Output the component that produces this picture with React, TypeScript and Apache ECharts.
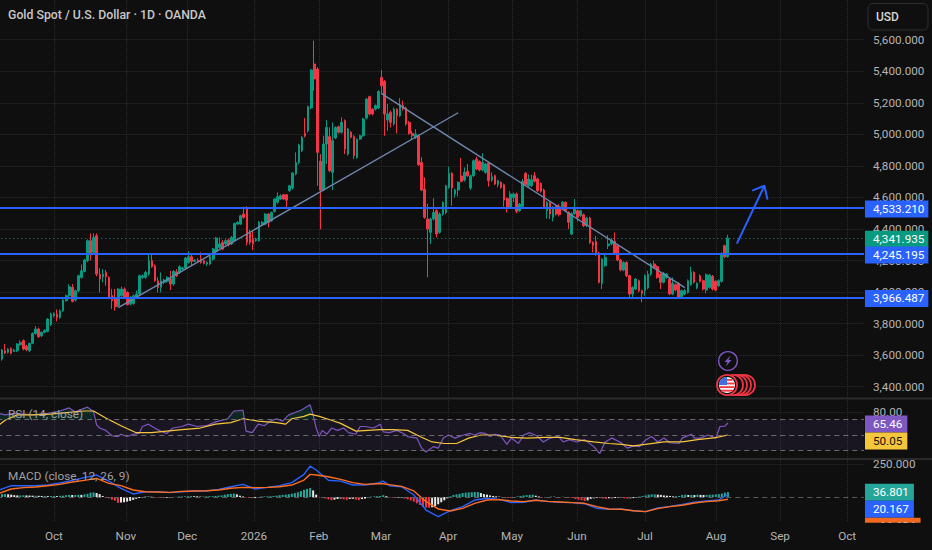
import React, { useEffect, useRef } from "react";
import * as echarts from "echarts";

const FONT = "Roboto, 'Liberation Sans', sans-serif";
const TICK_SIZE = 11.7;
const BAR_SLOTS = 283;

const monthBars = [18, 41.5, 61.5, 83.3, 104.5, 124.8, 146.7, 167.6, 188.8, 211, 234.2, 255.1, 277];
const monthLabels = ["Oct", "Nov", "Dec", "2026", "Feb", "Mar", "Apr", "May", "Jun", "Jul", "Aug", "Sep", "Oct"];

// open, close, low, high
const candles: number[][] = [
[3533,3575,3510,3590],[3575,3633,3565,3640],[3628,3614,3607,3671],[3618,3639,3610,3645],[3643,3612,3605,3650],
[3624,3633,3620,3640],[3628,3671,3620,3675],[3666,3681,3660,3695],[3692,3639,3630,3700],[3656,3635,3625,3665],
[3628,3675,3620,3680],[3675,3738,3670,3745],[3738,3766,3730,3785],[3766,3717,3710,3775],[3723,3745,3715,3750],
[3745,3755,3740,3765],[3751,3829,3745,3835],[3793,3861,3785,3870],[3850,3865,3840,3870],[3861,3840,3815,3890],
[3840,3882,3830,3890],[3882,3950,3875,3955],[3945,3977,3940,3985],[3977,4034,3970,4050],[4030,3941,3935,4050],
[3950,4009,3940,4015],[4009,4104,4000,4110],[4093,4135,4085,4175],[4131,4203,4125,4210],[4199,4326,4190,4335],
[4326,4241,4200,4372],[4252,4347,4240,4372],[4357,4114,4100,4372],[4114,4083,3998,4152],[4097,4114,4062,4146],
[4125,4097,4040,4140],[4093,3966,3955,4100],[3977,3945,3893,4020],[3966,3907,3882,4020],[3914,4019,3905,4025],
[3977,4019,3970,4035],[4019,3966,3960,4030],[3998,3920,3915,4005],[3924,3966,3915,3975],[3928,3977,3920,3985],
[3966,3988,3960,4010],[3988,4104,3980,4110],[4093,4104,4085,4112],[4093,4125,4085,4135],[4114,4199,4105,4235],
[4199,4161,4155,4237],[4167,4072,4065,4175],[4072,4030,3998,4093],[4030,4072,3998,4125],[4062,4076,4050,4085],
[4068,4093,4060,4100],[4083,4051,4013,4135],[4051,4131,4040,4140],[4129,4104,4095,4146],[4125,4161,4115,4170],
[4146,4152,4140,4160],[4152,4216,4145,4222],[4188,4224,4180,4258],[4224,4195,4165,4235],[4195,4203,4190,4210],
[4203,4197,4190,4215],[4209,4188,4180,4252],[4199,4182,4175,4205],[4178,4188,4165,4195],[4178,4224,4170,4232],
[4209,4273,4200,4280],[4258,4343,4250,4350],[4283,4305,4275,4347],[4315,4273,4265,4330],[4305,4326,4295,4335],
[4330,4300,4290,4340],[4305,4347,4298,4355],[4326,4435,4318,4440],[4431,4442,4425,4450],[4431,4484,4425,4490],
[4495,4474,4465,4541],[4533,4315,4295,4545],[4378,4315,4300,4395],[4336,4305,4266,4389],[4326,4336,4318,4345],
[4326,4442,4320,4450],[4431,4442,4425,4450],[4431,4495,4425,4500],[4495,4442,4410,4500],[4452,4505,4445,4510],
[4512,4590,4505,4595],[4569,4605,4560,4632],[4590,4611,4585,4620],[4617,4590,4583,4622],[4617,4583,4526,4622],
[4643,4674,4635,4680],[4660,4755,4650,4760],[4748,4822,4740,4886],[4822,4932,4810,4940],[4896,4981,4888,4990],
[5006,4989,4980,5103],[5023,5175,5012,5182],[5167,5408,5160,5415],[5446,5351,5277,5594],[5414,4886,4674,5425],
[4829,4647,4398,4875],[4647,4939,4640,4991],[4939,5044,4812,5091],[4985,4770,4760,5044],[4759,4960,4647,5076],
[4977,5044,4970,5050],[5048,5013,5005,5055],[5013,5076,5005,5108],[5087,4907,4875,5095],[4875,5034,4865,5040],
[5013,4981,4975,5020],[4985,4865,4843,4995],[4854,4970,4845,4975],[4970,4991,4965,4998],[4991,5097,4985,5105],
[5103,5224,5095,5230],[5239,5129,5120,5245],[5160,5129,5120,5165],[5160,5182,5150,5190],[5167,5272,5160,5278],
[5361,5308,5255,5408],[5336,5129,4991,5345],[5091,5129,5023,5192],[5139,5076,5044,5150],[5065,5160,5055,5170],
[5160,5118,5006,5165],[5118,5188,5110,5230],[5182,5160,5150,5213],[5167,5065,5055,5175],[5076,5006,4998,5085],
[5006,4991,4970,5023],[4981,5002,4970,5033],[4991,4807,4800,5000],[4822,4647,4640,4855],[4653,4474,4465,4727],
[4463,4400,4093,4560],[4379,4463,4305,4470],[4463,4505,4455,4596],[4516,4368,4347,4525],[4379,4495,4370,4505],
[4495,4569,4485,4575],[4505,4674,4495,4680],[4664,4753,4655,4795],[4753,4660,4547,4760],[4622,4647,4600,4655],
[4647,4696,4607,4702],[4736,4702,4695,4850],[4710,4759,4700,4790],[4765,4738,4730,4812],[4660,4738,4647,4745],
[4738,4833,4730,4840],[4843,4780,4772,4858],[4829,4774,4765,4835],[4774,4822,4765,4880],[4759,4812,4750,4820],
[4818,4706,4668,4825],[4710,4731,4700,4760],[4738,4685,4678,4745],[4681,4706,4664,4712],[4696,4664,4655,4702],
[4681,4584,4541,4688],[4594,4531,4505,4600],[4537,4622,4530,4640],[4600,4622,4570,4630],[4622,4512,4499,4630],
[4516,4558,4510,4565],[4543,4702,4535,4717],[4753,4681,4675,4760],[4674,4717,4665,4745],[4674,4712,4665,4745],
[4738,4702,4695,4761],[4717,4643,4635,4725],[4689,4639,4630,4695],[4647,4537,4530,4655],[4516,4569,4465,4575],
[4569,4495,4463,4575],[4474,4537,4448,4545],[4548,4495,4485,4555],[4541,4491,4480,4558],[4541,4569,4535,4578],
[4569,4516,4508,4575],[4505,4442,4400,4512],[4368,4499,4362,4505],[4499,4527,4490,4590],[4516,4474,4448,4525],
[4484,4516,4475,4522],[4490,4421,4412,4498],[4421,4469,4412,4478],[4469,4315,4305,4478],[4315,4294,4252,4322],
[4321,4237,4230,4357],[4247,4062,4055,4255],[4055,4209,4019,4215],[4167,4220,4160,4237],[4294,4305,4273,4361],
[4305,4330,4298,4343],[4321,4245,4238,4378],[4294,4203,4195,4300],[4203,4140,4132,4210],[4140,4188,4132,4195],
[4188,4104,4095,4195],[4104,3988,3956,4110],[3988,4030,3966,4037],[4019,4083,4012,4090],[4072,4009,4000,4080],
[4009,3992,3935,4015],[4009,4104,3977,4112],[4026,4114,4018,4135],[4114,4178,4105,4185],[4178,4157,4150,4199],
[4161,4093,4085,4170],[4114,4062,4019,4122],[4062,4119,4055,4128],[4093,4114,4085,4120],[4083,3988,3980,4090],
[3988,4055,3980,4093],[4047,4013,4005,4055],[4055,3966,3958,4062],[3971,4009,3962,4016],[3988,4009,3980,4020],
[3998,4072,3990,4080],[4047,4125,4040,4161],[4125,4062,4055,4132],[4026,4055,4018,4062],[4104,4068,4060,4112],
[4072,4019,4010,4080],[4013,4110,3992,4118],[4030,4108,4022,4115],[4100,4019,4010,4108],[4068,4013,4005,4075],
[4040,4072,4032,4080],[4068,4241,4060,4252],[4294,4224,4215,4300],[4224,4341.935,4218,4364],
];

const supportLevels = [4533.21, 4245.195, 3966.487];
const lastPrice = 4341.935;

const rsiBars = [0,2,5,11,16,20,23,25,29,31,32,33,35,37,39,40,42,44,46,47,49,51,53,55,57,60,62,65,68,71,75,77,80,81,83,85,87,89,91,93,95,99,102,103,104,105,106,107.5,109,111,113,114.6,117,118.4,120,122.8,125,126,128,130.4,132.6,134,137,138.6,140,142.4,144,145.7,147.4,149.5,152.3,154.5,156,157.7,159.4,161,162.7,164.3,166.5,168,170.3,172,174,176.3,178.5,180.7,183.4,185,187,189.4,192,195,197,198.7,201,204,206,208,210,212,214,216,218,220,223,224,227,228,230,232.5,235,236.4,238,239];
const rsiValues = [78,76,78,76,78,81,85,80,86,80,63,59,56,49,48,51,48,51,52,61,64,59,55,52,59,61,64,61,62,67,71,81,82,55,53,64,62,68,71,68,76,82,89,76,59,48,56,51,59,56,59,53,51,61,61,59,64,54,53,56,52,48,46,33,28,35,33,46,50,46,50,52,50,53,52,48,51,50,38,46,39,50,53,49,41,46,48,41,44,41,44,35,26,41,46,40,33,36,35,43.5,48,41,46,40,39,46,51,46,46,50,46,61,61.5,65.46];

const rsiMaBars = [0,2,6,11,17,22,28,31,35,40,45,50,55,60,66,71,76,80,85,91,94,96,100,102,105,109,112,117,121,125,129,134,138,142,146,150,154,158,162,168,173,179,184,189,195,200,204,208,212,218,224,229,235,239];
const rsiMaValues = [63,69,76,76,77,79,81,81,72,62,53,53,55,57,59,64,66,71,68,66,64,71,74,77,74,69,65,55,56,57,57,56,48,41,39,39,46,50,50,47,46,47,47,44,41,39,38,36,38,41,41,44,46.5,50.05];

const macdBars = [0,4,8,12,16,20,24,28,32,36,40,44,48,52,56,60,64,68,72,76,80,84,88,92,96,100,102,104,108,112,116,120,124,126,128,132,136,140,144,148,152,156,160,164,168,172,176,180,184,188,192,196,200,204,208,212,216,220,224,228,232,236,239];
const macdValues = [53,86,86,86,91,106,126,147,167,121,66,23,40,40,33,40,46,46,58,78,96,61,73,86,109,172,235,205,127,121,91,91,104,121,86,78,15,-99,-149,-104,-73,-23,-10,-18,-43,-40,-23,-35,-40,-43,-51,-86,-94,-90,-104,-111,-83,-71,-56,-40,-30,-23,20.167];
const signalValues = [28,61,71,76,86,96,114,126,142,104,86,53,40,38,35,43,46,48,53,66,73,71,73,78,91,129,172,167,154,134,109,96,101,101,94,81,46,-35,-91,-106,-86,-48,-23,-20,-30,-35,-25,-33,-38,-43,-48,-73,-91,-93,-104,-111,-88,-73,-63,-46,-35,-28,-16.634];

const histValues = [
20,22,22,20,18,14,12,12,13,12,
11,10,10,9,8,8,7,7,8,7,
9,10,14,16,15,16,17,16,20,24,
33,35,30,22,8,-5,-10,-20,-28,-45,
-42,-40,-35,-30,-22,-14,-8,-4,5,3,
2,-3,-5,-7,-8,-6,-4,-3,2,3,
4,5,6,7,6,5,3,4,5,6,
6,8,10,12,18,22,24,26,20,10,
4,-3,-7,-9,-8,-2,4,5,5,6,
8,10,14,15,18,22,25,30,36,45,
55,62,68,50,18,-3,-8,-12,-18,-24,
-20,-15,-12,-18,-22,-15,-14,-20,-24,-16,
-12,-5,3,5,6,8,14,6,-3,-5,
-8,-6,-5,-12,-18,-26,-35,-48,-60,-75,
-80,-82,-78,-70,-55,-40,-25,-10,5,15,
20,24,30,33,35,36,38,38,30,22,
18,12,8,5,3,-3,-6,-8,-8,-5,
5,8,12,14,16,18,10,4,-3,-2,
-3,3,2,-2,-3,2,-3,-5,-8,-15,
-20,-24,-30,-26,-14,-10,-6,-8,-12,-14,
-10,-12,-8,-5,-7,-9,-12,-10,-8,-5,
3,8,12,18,20,20,18,16,12,10,
8,5,6,8,16,18,15,16,15,18,
16,15,16,17,18,20,22,26,33,36.801,
];

const risingTrend = [[39, 3901], [150, 5137]];
const fallingTrend = [[125, 5258], [224, 4028]];
const arrowShaft = [[241, 4307], [250, 4674]];
const arrowHead = [[246, 4643], [250, 4674], [251, 4586]];

const BLUE = "#2962ff";
const GREEN = "#089981";
const RED = "#f23645";
const PURPLE = "#7e57c2";
const YELLOW = "#f5c63c";
const BG = "#0f0f0f";
const GRID = "#2b2b2b";
const AXIS_TEXT = "#b4b4b4";

const priceFmt = (v: number) =>
  v.toLocaleString("en-US", { minimumFractionDigits: 3, maximumFractionDigits: 3 });

const tag = (color: string, text: string, textColor: string, right: number, dy: number) => ({
  show: true,
  position: "end",
  distance: 1,
  formatter: text,
  backgroundColor: color,
  color: textColor,
  fontFamily: FONT,
  fontSize: TICK_SIZE,
  lineHeight: 11,
  padding: [3, right, 3, 8],
  offset: [0, dy],
});

const gridBox = { left: -2.73, width: 866.7, outerBoundsMode: "none" };

function buildOption() {
  const priceLevels = supportLevels.map((v, i) => ({
    yAxis: v,
    lineStyle: { color: BLUE, width: 2, type: "solid" },
    label: tag(BLUE, priceFmt(v), "#fff", 4, [1, 1.5, 1][i]),
  }));
  const priceFlag = {
    yAxis: lastPrice,
    lineStyle: { color: GREEN, width: 1, type: [1, 3] },
    label: tag(GREEN, priceFmt(lastPrice), "#fff", 4, 1),
  };
  const hidden = { color: "transparent", width: 0 };
  const rsiPairs = rsiBars.map((b, i) => [b, rsiValues[i]]);
  const overbought = rsiPairs.map((p) => (p[1] > 70 ? p : [p[0], null]));

  return {
    animation: false,
    backgroundColor: BG,
    textStyle: { fontFamily: FONT },
    grid: [
      { ...gridBox, top: 0, height: 521 },
      { ...gridBox, top: 8.15, height: 410.15 },
      { ...gridBox, top: 399, height: 60 },
      { ...gridBox, top: 459, height: 62 },
    ],
    xAxis: [
      {
        type: "value", gridIndex: 0, min: -0.5, max: BAR_SLOTS - 0.5,
        axisLine: { show: false },
        axisTick: { show: false, customValues: monthBars },
        splitLine: { show: true, lineStyle: { color: GRID, type: "dotted", width: 1 } },
        axisLabel: {
          customValues: monthBars,
          color: AXIS_TEXT, fontFamily: FONT, fontSize: TICK_SIZE, margin: 9, hideOverlap: false,
          formatter: (v: number) => monthLabels[monthBars.indexOf(v)] ?? "",
        },
      },
      { type: "category", gridIndex: 1, show: false, data: Array.from({ length: BAR_SLOTS }, (_, i) => String(i)) },
      { type: "value", gridIndex: 2, show: false, min: -0.567, max: 283.6 },
      { type: "value", gridIndex: 3, show: false, min: -0.567, max: 283.6 },
    ],
    yAxis: [
      { type: "value", gridIndex: 0, show: false, min: 0, max: 1 },
      {
        type: "value", gridIndex: 1, position: "right", min: 3200, max: 5800, interval: 200,
        axisLine: { show: false }, axisTick: { show: false },
        splitLine: { show: true, showMinLine: false, showMaxLine: false, lineStyle: { color: GRID, type: "dotted", width: 1 } },
        axisLabel: {
          showMinLabel: false, showMaxLabel: false, color: AXIS_TEXT, fontFamily: FONT, fontSize: TICK_SIZE, margin: 9, align: "left",
          formatter: (v: number) => priceFmt(v),
        },
      },
      {
        type: "value", gridIndex: 2, position: "right", min: 19, max: 96.5,
        axisLine: { show: false },
        axisTick: { show: false, customValues: [80] },
        splitLine: { show: true, lineStyle: { color: GRID, type: "dotted", width: 1 } },
        axisLabel: { customValues: [80], color: AXIS_TEXT, fontFamily: FONT, fontSize: TICK_SIZE, margin: 9, align: "left", formatter: (v: number) => v.toFixed(2) },
      },
      {
        type: "value", gridIndex: 3, position: "right", min: -182.4, max: 288.8,
        axisLine: { show: false },
        axisTick: { show: false, customValues: [250] },
        splitLine: { show: true, lineStyle: { color: GRID, type: "dotted", width: 1 } },
        axisLabel: { customValues: [250], color: AXIS_TEXT, fontFamily: FONT, fontSize: TICK_SIZE, margin: 9, align: "left", formatter: (v: number) => v.toFixed(3) },
      },
    ],
    series: [
      {
        type: "candlestick", name: "XAUUSD", xAxisIndex: 1, yAxisIndex: 1, data: candles, barWidth: 2.2,
        itemStyle: { color: GREEN, color0: RED, borderColor: GREEN, borderColor0: RED, borderWidth: 1 },
        markLine: { silent: true, symbol: "none", animation: false, data: [priceFlag, ...priceLevels] },
      },
      ...[risingTrend, fallingTrend].map((d) => ({
        type: "line", xAxisIndex: 1, yAxisIndex: 1, data: d, symbol: "none", silent: true,
        lineStyle: { color: "#6f86ad", width: 1.4 },
      })),
      ...[arrowShaft, arrowHead].map((d) => ({
        type: "line", xAxisIndex: 1, yAxisIndex: 1, data: d, symbol: "none", silent: true,
        lineStyle: { color: BLUE, width: 2 },
      })),
      {
        type: "line", name: "RSI overbought", xAxisIndex: 2, yAxisIndex: 2, data: overbought, symbol: "none", silent: true,
        lineStyle: { opacity: 0 }, areaStyle: { origin: 70, color: "rgba(8,153,129,0.25)" }, connectNulls: false,
      },
      {
        type: "line", name: "RSI", xAxisIndex: 2, yAxisIndex: 2, data: rsiPairs, symbol: "none", silent: true,
        lineStyle: { color: PURPLE, width: 1.2 },
        markArea: { silent: true, itemStyle: { color: "rgba(126,87,194,0.1)" }, data: [[{ yAxis: 70 }, { yAxis: 30 }]] },
        markLine: {
          silent: true, symbol: "none", animation: false,
          data: [70, 50, 30].map((v) => ({ yAxis: v, lineStyle: { color: "#6a6a6a", width: 1, type: [5, 4] }, label: { show: false } })).concat([
            { yAxis: 65.46, lineStyle: hidden as any, label: tag(PURPLE, "65.46", "#fff", 5, 1) as any },
            { yAxis: 50.05, lineStyle: hidden as any, label: tag(YELLOW, "50.05", "#131313", 5, 6) as any },
          ]),
        },
      },
      {
        type: "line", name: "RSI MA", xAxisIndex: 2, yAxisIndex: 2, data: rsiMaBars.map((b, i) => [b, rsiMaValues[i]]), symbol: "none", silent: true,
        lineStyle: { color: YELLOW, width: 1.2 },
      },
      {
        type: "bar", name: "Histogram", xAxisIndex: 3, yAxisIndex: 3, barWidth: 2, silent: true,
        data: histValues.map((v, i) => {
          const prev = i ? histValues[i - 1] : v;
          const color = v >= 0 ? (v >= prev ? "#26a69a" : "#e8e8e8") : v <= prev ? "#f23645" : "#e8e8e8";
          return { value: [i, v], itemStyle: { color } };
        }),
        markLine: {
          silent: true, symbol: "none", animation: false,
          data: [
            { yAxis: 0, lineStyle: { color: "#5a5a5a", width: 1, type: [5, 4] }, label: { show: false } },
            { yAxis: 36.801, lineStyle: hidden, label: tag("#26a69a", "36.801", "#fff", 5, 0) },
            { yAxis: 20.167, lineStyle: hidden, label: tag(BLUE, "20.167", "#fff", 5, 15) },
            { yAxis: -16.634, lineStyle: hidden, label: tag("#f0691f", "\u221216.634", "#fff", 5, 27) },
          ],
        },
      },
      {
        type: "line", name: "MACD", xAxisIndex: 3, yAxisIndex: 3, data: macdBars.map((b, i) => [b, macdValues[i]]), symbol: "none", silent: true,
        lineStyle: { color: "#2962ff", width: 1.4 },
      },
      {
        type: "line", name: "Signal", xAxisIndex: 3, yAxisIndex: 3, data: macdBars.map((b, i) => [b, signalValues[i]]), symbol: "none", silent: true,
        lineStyle: { color: "#ff6d1f", width: 1.4 },
      },
    ],
    graphic: [
      { type: "line", z: 50, shape: { x1: 0, y1: 398.5, x2: 932, y2: 398.5 }, style: { stroke: "#2a2a2a", lineWidth: 2 } },
      { type: "line", z: 50, shape: { x1: 0, y1: 459, x2: 932, y2: 459 }, style: { stroke: "#2a2a2a", lineWidth: 2 } },
      { type: "rect", z: 90, shape: { x: 860, y: 522.7, width: 72, height: 27.3 }, style: { fill: BG } },
      { type: "text", z: 60, x: 8, y: 9, style: { text: "Gold Spot / U.S. Dollar \u00b7 1D \u00b7 OANDA", fill: "#c8c8c8", font: `500 12.3px ${FONT}` } },
      { type: "text", z: 60, x: 8, y: 408, style: { text: "RSI (14, close)", fill: "#a0a0a0", font: `11.8px ${FONT}` } },
      { type: "text", z: 60, x: 8, y: 470, style: { text: "MACD (close, 12, 26, 9)", fill: "#a0a0a0", font: `11.8px ${FONT}` } },
      { type: "rect", z: 60, shape: { x: 868, y: 3.5, width: 60, height: 26.5, r: 5 }, style: { fill: BG, stroke: "#2e2e2e", lineWidth: 1 } },
      { type: "text", z: 61, x: 876, y: 10.5, style: { text: "USD", fill: "#d6d6d6", font: `500 12px ${FONT}` } },
      { type: "circle", z: 60, shape: { cx: 728, cy: 361, r: 9.3 }, style: { fill: BG, stroke: PURPLE, lineWidth: 1.4 } },
      { type: "polygon", z: 61, shape: { points: [[730.5, 355.5], [724.5, 362], [727.5, 362], [725.8, 366.5], [731.5, 360], [728.5, 360]] }, style: { fill: PURPLE } },
      ...[745, 741, 737, 733].map((cx) => ({ type: "circle", z: 60, shape: { cx, cy: 385, r: 10 }, style: { fill: "#101010", stroke: RED, lineWidth: 1.8 } })),
      { type: "circle", z: 61, shape: { cx: 727, cy: 385, r: 10 }, style: { fill: "#101010", stroke: RED, lineWidth: 1.8 } },
      { type: "circle", z: 62, shape: { cx: 727, cy: 385, r: 8 }, style: { fill: "#f4f4f4" } },
      { type: "rect", z: 63, shape: { x: 721.5, y: 379, width: 11, height: 1.8 }, style: { fill: RED } },
      { type: "rect", z: 63, shape: { x: 719.5, y: 382.6, width: 15, height: 1.8 }, style: { fill: RED } },
      { type: "rect", z: 63, shape: { x: 719.5, y: 386.2, width: 15, height: 1.8 }, style: { fill: RED } },
      { type: "rect", z: 63, shape: { x: 721, y: 389.8, width: 12, height: 1.8 }, style: { fill: RED } },
      { type: "sector", z: 64, shape: { cx: 727, cy: 385, r0: 0, r: 8, startAngle: Math.PI, endAngle: 1.5 * Math.PI }, style: { fill: "#3f6fe0" } },
    ],
  };
}

export default function App() {
  const ref = useRef<HTMLDivElement>(null);
  useEffect(() => {
    document.body.style.margin = "0";
    document.body.style.background = BG;
    const chart = echarts.init(ref.current!, undefined, { renderer: "svg" });
    chart.setOption(buildOption() as any);
    return () => chart.dispose();
  }, []);
  return <div ref={ref} style={{ width: 932, height: 550 }} />;
}
